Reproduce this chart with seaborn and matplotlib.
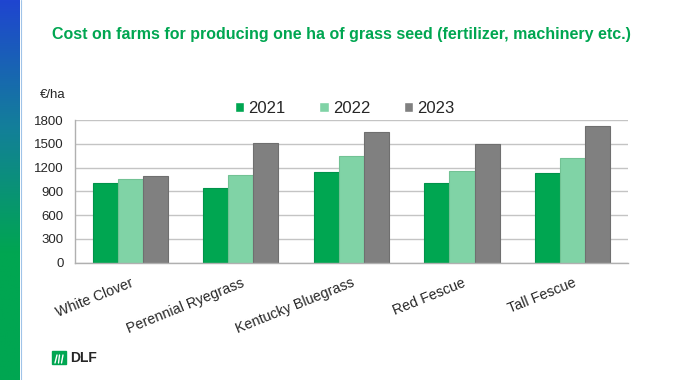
import numpy as np
import pandas as pd
import matplotlib
matplotlib.use("Agg")
import matplotlib.pyplot as plt
import seaborn as sns
from matplotlib.patches import Rectangle

# ── data ──────────────────────────────────────────────────────────────────────
crops = ["White Clover", "Perennial Ryegrass", "Kentucky Bluegrass", "Red Fescue", "Tall Fescue"]
years = ["2021", "2022", "2023"]
cost_2021 = [1000, 940, 1140, 1000, 1135]
cost_2022 = [1050, 1110, 1340, 1160, 1320]
cost_2023 = [1090, 1510, 1650, 1500, 1720]
yticks = [0, 300, 600, 900, 1200, 1500, 1800]

palette = {"2021": "#00a651", "2022": "#80d3a6", "2023": "#808080"}
edges = {"2021": "#00934a", "2022": "#72c294", "2023": "#6f6f6f"}

df = pd.DataFrame({
    "crop": crops * 3,
    "year": sum([[y] * len(crops) for y in years], []),
    "cost": cost_2021 + cost_2022 + cost_2023,
})

# ── figure ────────────────────────────────────────────────────────────────────
sns.set_style("white")
plt.rcParams["font.family"] = ["Liberation Sans", "DejaVu Sans"]

fig = plt.figure(figsize=(7, 3.8), dpi=100)
ax = fig.add_axes([0.107, 0.309, 0.79, 0.375])

sns.barplot(data=df, x="crop", y="cost", hue="year", hue_order=years,
            palette=palette, width=0.68, gap=0, saturation=1, ax=ax)
for cont, yr in zip(ax.containers, years):
    for bar in cont:
        bar.set_edgecolor(edges[yr])
        bar.set_linewidth(0.8)

ax.set_ylim(0, 1800)
ax.set_xlim(-0.5, len(crops) - 0.5)
ax.set_yticks(yticks)
ax.set_yticklabels([str(v) for v in yticks], fontsize=9.5)
ax.yaxis.grid(True, color="#c4c4c4", linewidth=1)
ax.set_axisbelow(True)
ax.set_xlabel("")
ax.set_ylabel("")

ax.set_xticks(np.arange(len(crops)))
ax.set_xticklabels(crops, rotation=22, ha="right", va="top",
                   rotation_mode="anchor", fontsize=10.3)
ax.tick_params(axis="x", length=0, pad=9.5)
ax.set_xticks(np.arange(-0.5, len(crops)), minor=True)
ax.tick_params(axis="x", which="minor", length=5, color="#b0b0b0", width=1)
ax.tick_params(axis="y", length=5, color="#b0b0b0", width=1, pad=3)

for side in ["top", "right"]:
    ax.spines[side].set_visible(False)
for side in ["left", "bottom"]:
    ax.spines[side].set_color("#b0b0b0")
    ax.spines[side].set_linewidth(1)

ax.legend(loc="center", bbox_to_anchor=(0.488, 1.08), ncol=3, frameon=False,
          fontsize=12, handlelength=0.55, handleheight=0.55, handletextpad=0.25,
          columnspacing=2.05, borderaxespad=0)

fig.text(53 / 700, 1 - 95.5 / 380, "€/ha", fontsize=9.5, ha="center", va="center")

fig.text(341.5 / 700, 1 - 35 / 380,
         "Cost on farms for producing one ha of grass seed (fertilizer, machinery etc.)",
         fontsize=11.5, fontweight="bold", color="#00a651", ha="center", va="center")

# left gradient strip
grad = np.linspace(0, 1, 256).reshape(-1, 1)
cmap = matplotlib.colors.LinearSegmentedColormap.from_list(
    "strip", ["#1f45d0", "#137f9a", "#00a651", "#00a651"])
sax = fig.add_axes([0, 0, 20 / 700, 1])
sax.imshow(grad, aspect="auto", cmap=cmap, origin="upper")
sax.axis("off")
fig.add_artist(plt.Line2D([20.5 / 700, 20.5 / 700], [0, 1], color="#9fc3e8",
                          linewidth=0.8, transform=fig.transFigure))

# DLF logo
fig.add_artist(Rectangle((52 / 700, 1 - 364 / 380), 14 / 700, 13 / 380,
                         color="#00a651", transform=fig.transFigure))
for x0, x1 in [(55, 57), (58.5, 59.5), (61.5, 63)]:
    fig.add_artist(plt.Line2D([x0 / 700, x1 / 700], [1 - 363 / 380, 1 - 355 / 380],
                              color="white", linewidth=1, transform=fig.transFigure))
fig.text(70.5 / 700, 1 - 357.5 / 380, "DLF", fontsize=10, fontweight="bold",
         ha="left", va="center")

fig.savefig("out.png", dpi=100)
